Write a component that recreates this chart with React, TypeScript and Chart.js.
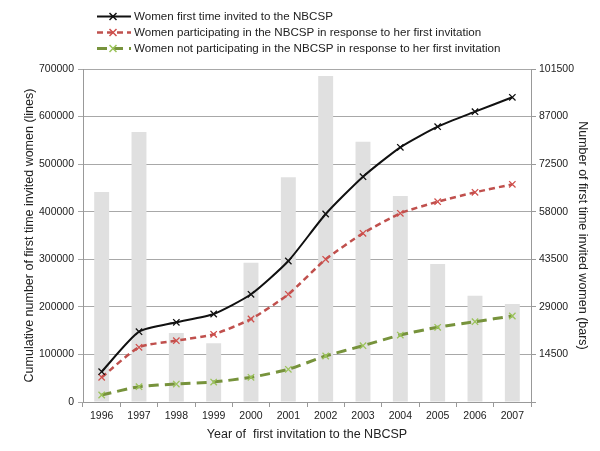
import React, { useEffect, useRef } from 'react';
import { Chart, registerables } from 'chart.js';

Chart.register(...registerables);

const years = ['1996', '1997', '1998', '1999', '2000', '2001', '2002', '2003', '2004', '2005', '2006', '2007'];
const firstInvitedCumulative = [63700, 147800, 167500, 185000, 226400, 296400, 395200, 473600, 535400, 578800, 610300, 640500];
const participatingCumulative = [51900, 115000, 128900, 142300, 174500, 226400, 300000, 354600, 396600, 421100, 440800, 457600];
const notParticipatingCumulative = [14700, 32200, 37800, 42000, 51900, 68700, 96700, 118400, 140800, 157000, 168800, 180800];
const firstInvitedPerYear = [64000, 82300, 21000, 17900, 42460, 68490, 99370, 79350, 62790, 42060, 32400, 29870];
const seriesLabels = [
  'Women first time invited to the NBCSP',
  'Women participating in the NBCSP in response to her first invitation',
  'Women not participating in the NBCSP in response to her first invitation',
];
const leftAxisTitle = 'Cumulative number of first time invited women (lines)';
const rightAxisTitle = 'Number of first time invited women (bars)';
const xAxisTitle = 'Year of  first invitation to the NBCSP';

const FONT = '"Liberation Sans", Arial, Helvetica, sans-serif';

const legendStyles = [
  { line: '#111111', marker: '#111111', width: 2, dash: [] as number[] },
  { line: '#c0504d', marker: '#d0504d', width: 2.5, dash: [6, 4] },
  { line: '#77933c', marker: '#9bc35a', width: 3, dash: [10, 6] },
];

const legendPlugin = {
  id: 'customLegend',
  afterDraw(chart: any) {
    const ctx = chart.ctx as CanvasRenderingContext2D;
    ctx.save();
    ctx.font = `11.6px ${FONT}`;
    ctx.textBaseline = 'middle';
    ctx.textAlign = 'left';
    seriesLabels.forEach((label, i) => {
      const st = legendStyles[i];
      const y = 16.5 + i * 16;
      ctx.strokeStyle = st.line;
      ctx.lineWidth = st.width;
      ctx.setLineDash(st.dash);
      ctx.beginPath();
      ctx.moveTo(97, y);
      ctx.lineTo(131, y);
      ctx.stroke();
      ctx.setLineDash([]);
      ctx.strokeStyle = st.marker;
      ctx.lineWidth = 1.5;
      const r = 3.5;
      ctx.beginPath();
      ctx.moveTo(113 - r, y - r);
      ctx.lineTo(113 + r, y + r);
      ctx.moveTo(113 + r, y - r);
      ctx.lineTo(113 - r, y + r);
      ctx.stroke();
      ctx.fillStyle = '#222222';
      ctx.fillText(label, 134, y);
    });
    ctx.restore();
  },
};

export default function App() {
  const canvasRef = useRef<HTMLCanvasElement | null>(null);

  useEffect(() => {
    document.body.style.margin = '0';
    const canvas = canvasRef.current;
    if (!canvas) return;
    const chart = new Chart(canvas, {
      type: 'bar',
      data: {
        labels: years,
        datasets: [
          {
            type: 'line',
            label: seriesLabels[0],
            data: firstInvitedCumulative,
            yAxisID: 'y',
            borderColor: '#111111',
            borderWidth: 2,
            pointStyle: 'crossRot',
            pointRadius: 4.5,
            pointBorderWidth: 1.3,
            pointBorderColor: '#111111',
            pointBackgroundColor: '#111111',
            tension: 0.2,
            order: 0,
          },
          {
            type: 'line',
            label: seriesLabels[1],
            data: participatingCumulative,
            yAxisID: 'y',
            borderColor: '#c0504d',
            borderWidth: 2.5,
            borderDash: [6, 4],
            pointStyle: 'crossRot',
            pointRadius: 4.5,
            pointBorderWidth: 1.3,
            pointBorderColor: '#d0504d',
            pointBackgroundColor: '#d0504d',
            tension: 0.2,
            order: 1,
          },
          {
            type: 'line',
            label: seriesLabels[2],
            data: notParticipatingCumulative,
            yAxisID: 'y',
            borderColor: '#77933c',
            borderWidth: 3,
            borderDash: [10, 6],
            pointStyle: 'crossRot',
            pointRadius: 4.5,
            pointBorderWidth: 1.3,
            pointBorderColor: '#9bc35a',
            pointBackgroundColor: '#9bc35a',
            tension: 0.2,
            order: 2,
          },
          {
            type: 'bar',
            label: 'bars',
            data: firstInvitedPerYear,
            yAxisID: 'y2',
            backgroundColor: '#e0e0e0',
            borderWidth: 0,
            barPercentage: 0.4,
            categoryPercentage: 1,
            order: 10,
          },
        ],
      },
      options: {
        responsive: false,
        animation: false,
        devicePixelRatio: 1,
        layout: { padding: { top: 69, left: 0, right: 0, bottom: 0 } },
        plugins: {
          legend: { display: false },
          tooltip: { enabled: false },
          title: { display: false },
        },
        scales: {
          x: {
            type: 'category',
            offset: true,
            afterFit: (s: any) => { s.height = 49; },
            grid: {
              offset: true,
              drawOnChartArea: false,
              drawTicks: true,
              tickLength: 5,
              color: '#999999',
            },
            border: { display: true, color: '#999999', width: 1 },
            ticks: {
              color: '#222222',
              font: { family: FONT, size: 10.5 },
              padding: 3,
              maxRotation: 0,
            },
            title: {
              display: true,
              text: xAxisTitle,
              color: '#222222',
              font: { family: FONT, size: 12.5 },
              padding: { top: 0, bottom: 9 },
            },
          },
          y: {
            type: 'linear',
            position: 'left',
            min: 0,
            max: 700000,
            afterFit: (s: any) => { s.width = 83; },
            ticks: {
              stepSize: 100000,
              color: '#222222',
              font: { family: FONT, size: 10.5 },
              padding: 4,
              callback: (v: any) => String(v),
            },
            grid: {
              color: '#a8a8a8',
              lineWidth: 1,
              drawTicks: true,
              tickLength: 5,
            },
            border: { display: true, color: '#999999', width: 1 },
            title: {
              display: true,
              text: leftAxisTitle,
              color: '#222222',
              font: { family: FONT, size: 12.5 },
              padding: { top: 22, bottom: 0 },
            },
          },
          y2: {
            type: 'linear',
            position: 'right',
            min: 0,
            max: 101500,
            afterFit: (s: any) => { s.width = 69; },
            ticks: {
              stepSize: 14500,
              color: '#222222',
              font: { family: FONT, size: 10.5 },
              padding: 3,
              callback: (v: any) => (Number(v) === 0 ? '' : String(v)),
            },
            grid: {
              drawOnChartArea: false,
              drawTicks: true,
              tickLength: 5,
              color: '#999999',
            },
            border: { display: true, color: '#999999', width: 1 },
            title: {
              display: true,
              text: rightAxisTitle,
              color: '#222222',
              font: { family: FONT, size: 12.5 },
              padding: { top: 10, bottom: 0 },
            },
          },
        },
      },
      plugins: [legendPlugin],
    });
    return () => chart.destroy();
  }, []);

  return (
    <div style={{ width: 600, height: 451 }}>
      <canvas ref={canvasRef} width={600} height={451} style={{ display: 'block' }} />
    </div>
  );
}
